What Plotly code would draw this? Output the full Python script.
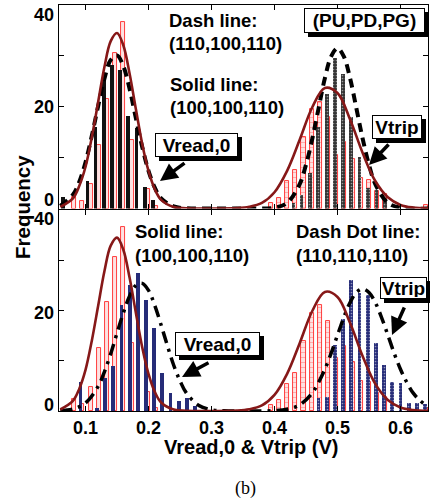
import plotly.graph_objects as go

# ---------------- data ----------------
# Vread,0 histograms
red_vread_x = [0.082, 0.095, 0.108, 0.121, 0.134, 0.147, 0.160, 0.173, 0.199, 0.212]
red_vread_y = [2.3, 1.4, 4.8, 12.5, 21.6, 30.6, 36.7, 13.5, 3.8, 0.5]
black_vread_x = [0.064, 0.103, 0.116, 0.129, 0.142, 0.155, 0.168, 0.181, 0.194, 0.207]
black_vread_y = [2.2, 5.5, 16.1, 25.2, 28.2, 27.2, 18.2, 15.8, 4.2, 1.7]
blue_vread_x = [0.092, 0.118, 0.131, 0.144, 0.157, 0.170, 0.183, 0.196, 0.209, 0.222, 0.235, 0.248, 0.261, 0.274]
blue_vread_y = [5.8, 0.6, 6.5, 9.0, 21.1, 25.1, 27.5, 22.1, 16.6, 7.5, 3.5, 2.0, 2.5, 1.0]
# Vtrip histograms
red_vtrip_x = [0.394, 0.407, 0.420, 0.433, 0.446, 0.459, 0.472, 0.485, 0.498, 0.511, 0.524, 0.537, 0.550, 0.563, 0.576, 0.641]
red_vtrip_y = [1.1, 2.1, 5.4, 7.5, 14.0, 19.5, 21.0, 18.0, 10.5, 13.0, 9.8, 5.9, 5.7, 3.5, 2.8, 0.6]
black_vtrip_x = [0.430, 0.443, 0.456, 0.469, 0.483, 0.496, 0.509, 0.522, 0.535, 0.548, 0.562, 0.575]
black_vtrip_y = [1.1, 2.7, 7.0, 16.1, 22.5, 29.5, 26.4, 18.0, 10.2, 4.0, 3.6, 1.7]
blue_vtrip_x = [0.470, 0.483, 0.496, 0.509, 0.522, 0.535, 0.548, 0.561, 0.574, 0.587, 0.600, 0.613, 0.626, 0.639]
blue_vtrip_y = [2.5, 2.8, 13.1, 18.4, 26.1, 23.4, 23.1, 13.5, 9.2, 5.8, 5.5, 1.5, 1.5, 1.4]

# fitted curves, points
solid_x = [0.06, 0.08, 0.09, 0.10, 0.11, 0.12, 0.13, 0.14, 0.15, 0.16, 0.17, 0.18, 0.19, 0.20, 0.21, 0.22,
           0.24, 0.26, 0.30, 0.34, 0.36, 0.38, 0.40, 0.42, 0.44, 0.46, 0.48, 0.50, 0.52, 0.54, 0.56, 0.58,
           0.60, 0.62, 0.645]
solid_y = [0.3, 2.0, 4.4, 8.2, 14.0, 20.9, 27.8, 32.9, 34.5, 32.1, 26.5, 19.5, 12.7, 7.4, 3.8, 1.7,
           0.3, 0.05, 0.0, 0.07, 0.33, 1.1, 3.2, 7.4, 13.5, 19.9, 23.7, 22.7, 17.5, 10.9, 5.4, 2.2,
           0.7, 0.19, 0.03]
dash_x = [0.06, 0.08, 0.09, 0.10, 0.11, 0.12, 0.13, 0.14, 0.15, 0.16, 0.17, 0.18, 0.19, 0.20, 0.21, 0.22,
          0.24, 0.26, 0.30, 0.36, 0.40, 0.42, 0.44, 0.45, 0.46, 0.47, 0.48, 0.49, 0.50, 0.51, 0.52, 0.53,
          0.54, 0.55, 0.56, 0.58, 0.60, 0.645]
dash_y = [0.5, 2.7, 5.2, 9.1, 14.3, 20.1, 25.5, 29.2, 30.1, 28.0, 23.5, 17.7, 12.1, 7.4, 4.1, 2.0,
          0.4, 0.05, 0.0, 0.0, 0.17, 1.1, 4.8, 8.6, 13.7, 19.7, 25.6, 29.9, 31.5, 29.9, 25.6, 19.7,
          13.7, 8.6, 4.8, 1.1, 0.17, 0.0]
dashdot_x = [0.06, 0.08, 0.10, 0.12, 0.13, 0.14, 0.15, 0.16, 0.17, 0.18, 0.19, 0.20, 0.21, 0.22, 0.23,
             0.24, 0.25, 0.26, 0.28, 0.30, 0.32, 0.36, 0.40, 0.42, 0.44, 0.46, 0.47, 0.48, 0.49, 0.50,
             0.51, 0.52, 0.53, 0.54, 0.55, 0.56, 0.57, 0.58, 0.59, 0.60, 0.61, 0.62, 0.63, 0.64, 0.645]
dashdot_y = [0.07, 0.39, 1.6, 4.9, 7.8, 11.4, 15.5, 19.5, 22.9, 25.0, 25.4, 24.0, 21.0, 17.1, 13.0,
             9.1, 6.0, 3.6, 1.1, 0.24, 0.04, 0.0, 0.07, 0.34, 1.2, 3.6, 5.7, 8.3, 11.5, 15.1,
             18.6, 21.6, 23.6, 24.3, 23.6, 21.6, 18.6, 15.1, 11.5, 8.3, 5.7, 3.6, 2.2, 1.2, 0.9]

x_ticks = [0.1, 0.2, 0.3, 0.4, 0.5, 0.6]
x_ticktext = ["0.1", "0.2", "0.3", "0.4", "0.5", "0.6"]
y_ticks = [0, 10, 20, 30, 40]
y_labels = ["0", "20", "40"]

# ---------------- styles ----------------
FONT = "Arial, Liberation Sans, sans-serif"
RED_LINE = "#861818"
BAR_RED = "#ff2a2a"
PINK = "#fde2e2"
BLACK = "#111111"
NAVY = "#262c78"
W = 0.0060

fig = go.Figure()


def add_bars(x, y, xa, ya, color, edge=None, pattern=None, width=W):
    marker = dict(color=color, line=dict(width=0.9 if edge else 0, color=edge or color))
    if pattern:
        marker["pattern"] = pattern
    fig.add_trace(go.Bar(x=x, y=y, width=width, marker=marker, xaxis=xa, yaxis=ya,
                         showlegend=False, hoverinfo="skip"))


# top panel bars
add_bars(red_vread_x, red_vread_y, "x", "y", PINK, edge=BAR_RED, width=0.0065)
add_bars(red_vtrip_x, red_vtrip_y, "x", "y", PINK, edge=BAR_RED, width=0.0065,
         pattern=dict(shape="-", bgcolor=PINK, fgcolor=BAR_RED, size=5, solidity=0.12))
add_bars(black_vread_x, black_vread_y, "x", "y", BLACK)
add_bars(black_vtrip_x, black_vtrip_y, "x", "y", "#333333",
         pattern=dict(shape=".", bgcolor="#333333", fgcolor="#ffffff", size=3, solidity=0.25))
# bottom panel bars
add_bars(red_vread_x, red_vread_y, "x2", "y2", PINK, edge=BAR_RED, width=0.0065)
add_bars(red_vtrip_x, red_vtrip_y, "x2", "y2", PINK, edge=BAR_RED, width=0.0065,
         pattern=dict(shape="-", bgcolor=PINK, fgcolor=BAR_RED, size=5, solidity=0.12))
add_bars(blue_vread_x, blue_vread_y, "x2", "y2", NAVY)
add_bars(blue_vtrip_x, blue_vtrip_y, "x2", "y2", NAVY,
         pattern=dict(shape=".", bgcolor=NAVY, fgcolor="#ffffff", size=3, solidity=0.25))

# curves
fig.add_trace(go.Scatter(x=dash_x, y=dash_y, mode="lines", xaxis="x", yaxis="y",
                         line=dict(color="black", width=4, dash="9px,6px", shape="spline"),
                         showlegend=False, hoverinfo="skip"))
fig.add_trace(go.Scatter(x=solid_x, y=solid_y, mode="lines", xaxis="x", yaxis="y",
                         line=dict(color=RED_LINE, width=2.6, shape="spline"),
                         showlegend=False, hoverinfo="skip"))
fig.add_trace(go.Scatter(x=dashdot_x, y=dashdot_y, mode="lines", xaxis="x2", yaxis="y2",
                         line=dict(color="black", width=3.5, dash="12px,6px,3px,6px", shape="spline"),
                         showlegend=False, hoverinfo="skip"))
fig.add_trace(go.Scatter(x=solid_x, y=solid_y, mode="lines", xaxis="x2", yaxis="y2",
                         line=dict(color=RED_LINE, width=2.6, shape="spline"),
                         showlegend=False, hoverinfo="skip"))

# ---------------- layout ----------------
L, R, T, B = 59, 2, 5, 91
FW, FH = 430, 502
PW, PH = FW - L - R, FH - T - B


def PX(xp):
    return (xp - L) / PW


def PY(yp):
    return (FH - B - yp) / PH


XR = [0.0579, 0.6437]
common_x = dict(range=XR, tickvals=x_ticks, ticktext=x_ticktext, ticks="inside", ticklen=5,
                tickcolor="black", showline=True, linecolor="black", linewidth=1, mirror="ticks",
                showgrid=False, zeroline=False)
common_y = dict(range=[0, 40], tickvals=y_ticks, ticks="inside", ticklen=5, tickcolor="black",
                showline=True, linecolor="black", linewidth=1, mirror="ticks",
                showgrid=False, zeroline=False, showticklabels=False)

fig.update_layout(
    width=FW, height=FH,
    margin=dict(l=L, r=R, t=T, b=B),
    paper_bgcolor="white", plot_bgcolor="white",
    barmode="overlay", bargap=0,
    font=dict(family=FONT, color="black"),
    xaxis=dict(domain=[0, 1], anchor="y", showticklabels=False, **common_x),
    yaxis=dict(domain=[PY(208.5), 1], anchor="x", **common_y),
    xaxis2=dict(domain=[0, 1], anchor="y2", showticklabels=True,
                tickfont=dict(size=18, weight="bold", family=FONT), **common_x),
    yaxis2=dict(domain=[0, PY(210)], anchor="x2", **common_y),
)

ann = []


def text(t, xp, yp, size=18.5, xanchor="left", family=FONT, bold=True):
    ann.append(dict(text=("<b>%s</b>" % t) if bold else t, x=PX(xp), y=PY(yp),
                    xref="paper", yref="paper", xanchor=xanchor, yanchor="middle",
                    showarrow=False, font=dict(size=size, family=family, color="black")))


def box(t, cx, cy, w, h, size=19):
    for dx, dy, bg, fc in [(4, 4, "black", "black"), (0, 0, "white", "black")]:
        ann.append(dict(text="<b>%s</b>" % t, x=PX(cx + dx), y=PY(cy + dy), xref="paper", yref="paper",
                        xanchor="center", yanchor="middle", showarrow=False,
                        width=w - 4, height=h - 4, borderpad=1, borderwidth=1,
                        bordercolor="black", bgcolor=bg, font=dict(size=size, family=FONT, color=fc)))


def arrow(tipx, tipy, tailx, taily):
    ann.append(dict(text="", x=PX(tipx), y=PY(tipy), xref="paper", yref="paper",
                    ax=tailx - tipx, ay=taily - tipy, showarrow=True, arrowhead=2,
                    arrowsize=1.0, arrowwidth=3.5, arrowcolor="black", standoff=0))


# y tick labels (placed as in the original figure)
for lab, yp in zip(y_labels, [200, 107, 15]):
    text(lab, 56, yp, size=18, xanchor="right")
for lab, yp in zip(y_labels, [405, 313, 219]):
    text(lab, 56, yp, size=18, xanchor="right")

# top panel texts
text("Dash line:", 167, 20)
text("(110,100,110)", 167, 43)
text("Solid line:", 168, 84)
text("(100,100,110)", 168, 107)
box("(PU,PD,PG)", 364.5, 20.5, 121, 25)
box("Vread,0", 196.5, 144.5, 83, 24)
box("Vtrip", 397, 126.5, 50, 24)
arrow(160, 181, 186, 162)
arrow(369, 165, 390, 143)

# bottom panel texts
text("Solid line:", 133, 231)
text("(100,100,110)", 133, 255)
text("Dash Dot line:", 294, 231)
text("(110,110,110)", 294, 255)
box("Vread,0", 217.5, 343.5, 85, 24)
box("Vtrip", 403.5, 287.5, 47, 22)
arrow(182, 377, 210, 362)
arrow(392, 335, 405, 306)

# axis titles
text("Vread,0 &amp; Vtrip (V)", 251, 447, size=20, xanchor="center")
ann.append(dict(text="<b>Frequency</b>", x=PX(23), y=PY(207), xref="paper", yref="paper",
                xanchor="center", yanchor="middle", textangle=-90, showarrow=False,
                font=dict(size=20.5, family=FONT, color="black")))
# panel label
text("(b)", 245, 488, size=18, xanchor="center",
     family="Times New Roman, Liberation Serif, serif", bold=False)

fig.update_layout(annotations=ann)
fig.write_html("out.html", config={"displayModeBar": False},
               post_script="document.body.style.margin='0px';document.body.style.padding='0px';"
                           "document.documentElement.style.overflow='hidden';")
